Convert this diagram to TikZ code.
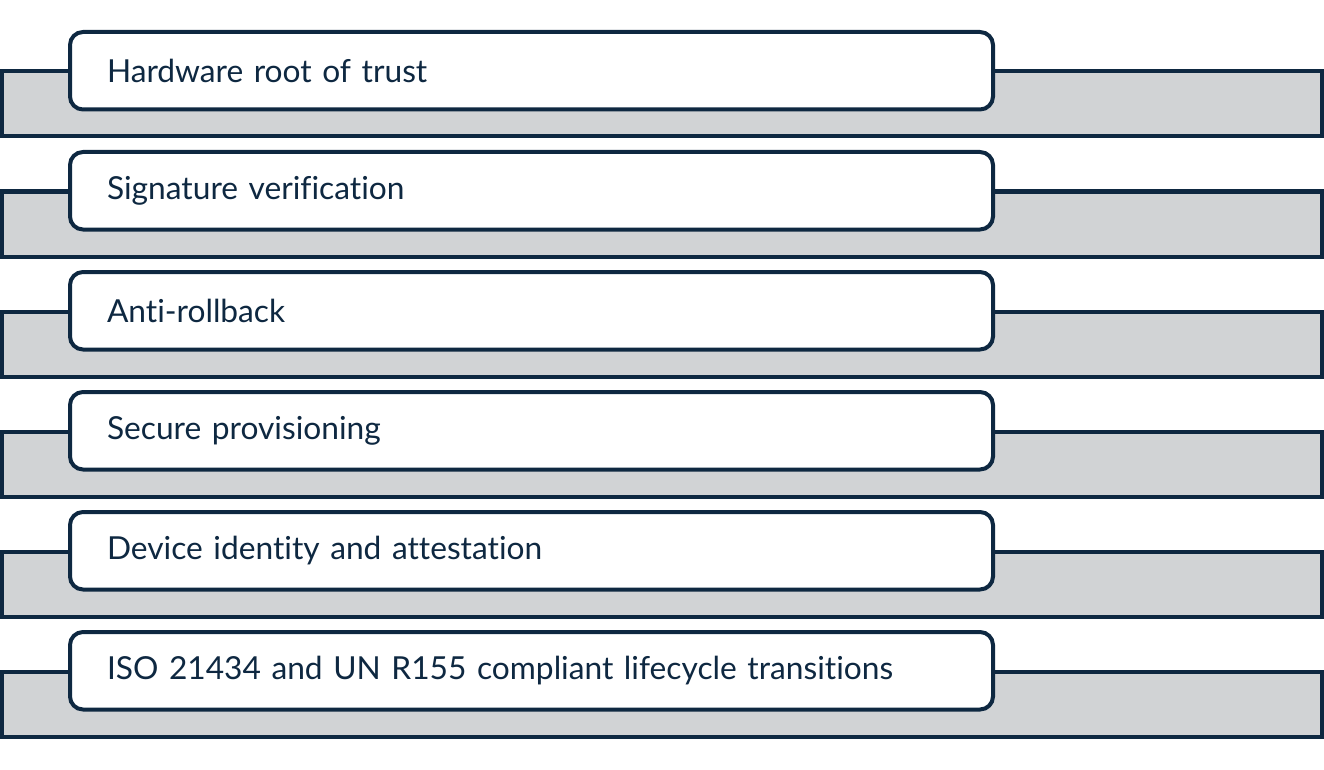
\documentclass[tikz,border=0pt]{standalone}
\usepackage{fontspec}
\setmainfont{Lato}[Ligatures=NoCommon]
\usetikzlibrary{positioning}
\definecolor{navy}{HTML}{0E2841}
\definecolor{bargray}{HTML}{D1D3D5}
\tikzset{
  graybar/.style={draw=navy,fill=bargray,line width=4pt},
  labelbox/.style={draw=navy,fill=white,line width=4pt,rounded corners=13pt,
    anchor=west,minimum width=923pt,minimum height=77.5pt,inner xsep=37pt,
    text width=849pt,align=left,text=navy,font=\fontsize{31.7}{36}\selectfont}
}

\begin{document}
\begin{tikzpicture}[x=1pt,y=1pt]
    \useasboundingbox (0,0) rectangle (1324,-770);
    \foreach \i/\txt in {0/Hardware root of trust,
                         1/Signature verification,
                         2/Anti-rollback,
                         3/Secure provisioning,
                         4/Device identity and attestation,
                         5/ISO 21434 and UN R155 compliant lifecycle transitions}{
      \begin{scope}[shift={(0,-120*\i)}]
        \draw[graybar](2,-71.5) rectangle (1321.5,-136.5);
        \node[labelbox](box\i) at (68,-70.75) {\txt};
      \end{scope}
    }
  \end{tikzpicture}
\end{document}
